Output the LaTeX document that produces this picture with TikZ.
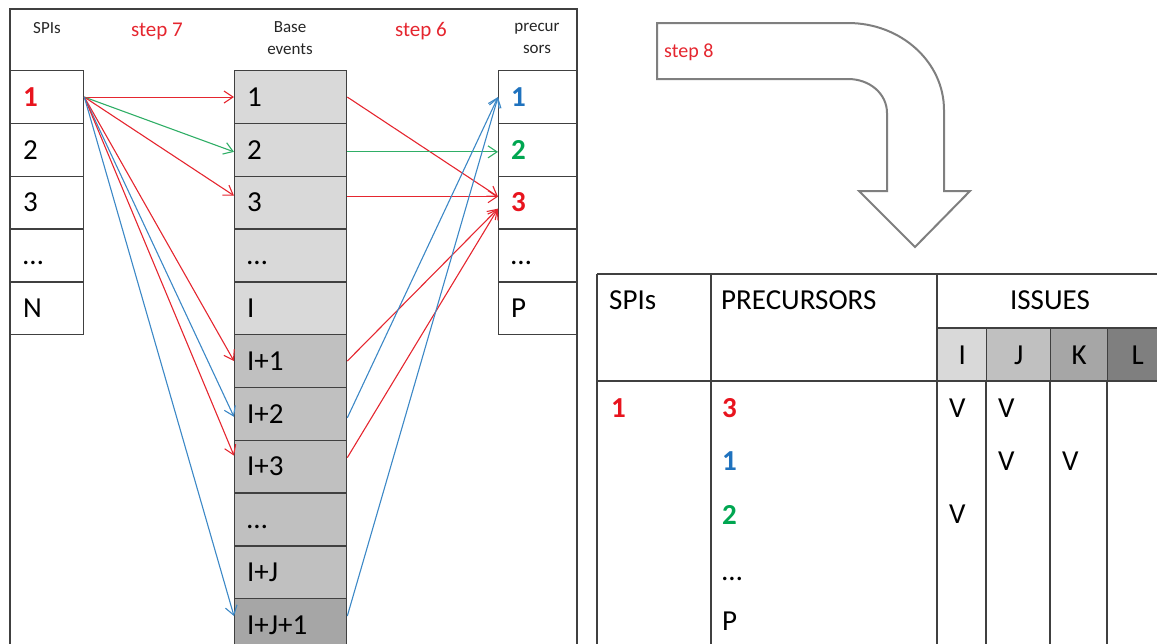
\documentclass[tikz,border=0pt]{standalone}
\usepackage{fontspec}
\setmainfont{Carlito}
\usetikzlibrary{arrows.meta}

\definecolor{hred}{HTML}{E8141E}
\definecolor{hblue}{HTML}{1F72BE}
\definecolor{hgreen}{HTML}{00A651}
\definecolor{lred}{HTML}{E5262F}
\definecolor{lgreen}{HTML}{2FAE66}
\definecolor{lblue}{HTML}{3C88C6}
\definecolor{rule}{HTML}{404040}
\definecolor{shadeA}{HTML}{D9D9D9}
\definecolor{shadeB}{HTML}{C0C0C0}
\definecolor{shadeC}{HTML}{A6A6A6}
\definecolor{shadeD}{HTML}{7F7F7F}
\definecolor{bendgray}{HTML}{7F7F7F}

\newcommand{\red}[1]{\textcolor{hred}{\bfseries #1}}
\newcommand{\blu}[1]{\textcolor{hblue}{\bfseries #1}}
\newcommand{\grn}[1]{\textcolor{hgreen}{\bfseries #1}}

\begin{document}
\begin{tikzpicture}[x=1pt,y=-1pt,
  bigfont/.style={font=\fontsize{29}{30}\selectfont},
  cell/.style={bigfont, draw=rule, line width=1.3pt, minimum height=52.8pt,
    inner xsep=12.5pt, inner ysep=0pt, text height=18.5pt, text depth=0pt,
    align=left, anchor=north west},
  spicell/.style={cell, text width=48pt},
  evcell/.style={cell, text width=87pt},
  precell/.style={cell, text width=54pt},
  headtxt/.style={font=\fontsize{17}{22}\selectfont, align=center, text=black!85},
  steptxt/.style={font=\fontsize{21}{24}\selectfont, text=lred},
  link/.style={line width=1.1pt, -{Straight Barb[length=9pt,width=12pt]}},
  tline/.style={draw=rule, line width=1.3pt},
  ttxt/.style={bigfont, anchor=west, inner sep=0pt, text height=18.5pt, text depth=0pt},
  hcell/.style={bigfont, draw=rule, line width=1.3pt, minimum height=53pt,
    inner sep=0pt, text height=18.5pt, text depth=0pt, anchor=north west}
]
\useasboundingbox (0,0) rectangle (1157,643);
\clip (0,0) rectangle (1157,643);

% ---------- left panel: outer frame ----------
\draw[tline] (10,700) -- (10,9) -- (577,9) -- (577,700);

% headings
\node[headtxt] (hspi) at (47,28) {SPIs};
\node[headtxt] (hbase) at (290,38) {Base\\events};
\node[headtxt] (hprec) at (537,38) {precur\\sors};
\node[steptxt] (st7) at (157,31) {step 7};
\node[steptxt] (st6) at (421,31) {step 6};

% SPIs column
\node[spicell] (s1) at (10,70.0)  {\red{1}};
\node[spicell] (s2) at (10,122.8) {2};
\node[spicell] (s3) at (10,175.6) {3};
\node[spicell] (s4) at (10,228.4) {\dots};
\node[spicell] (s5) at (10,281.2) {N};

% base events column
\node[evcell, fill=shadeA] (b1)   at (234,70.0)  {1};
\node[evcell, fill=shadeA] (b2)   at (234,122.8) {2};
\node[evcell, fill=shadeA] (b3)   at (234,175.6) {3};
\node[evcell, fill=shadeA] (bd1)  at (234,228.4) {\dots};
\node[evcell, fill=shadeA] (bI)   at (234,281.2) {I};
\node[evcell, fill=shadeB] (bI1)  at (234,334.0) {I+1};
\node[evcell, fill=shadeB] (bI2)  at (234,386.8) {I+2};
\node[evcell, fill=shadeB] (bI3)  at (234,439.6) {I+3};
\node[evcell, fill=shadeB] (bd2)  at (234,492.4) {\dots};
\node[evcell, fill=shadeB] (bIJ)  at (234,545.2) {I+J};
\node[evcell, fill=shadeC] (bIJ1) at (234,598.0) {I+J+1};

% precursors column
\node[precell] (p1) at (498,70.0)  {\blu{1}};
\node[precell] (p2) at (498,122.8) {\grn{2}};
\node[precell] (p3) at (498,175.6) {\red{3}};
\node[precell] (p4) at (498,228.4) {\dots};
\node[precell] (p5) at (498,281.2) {P};

% step 7: SPI 1 to base events
\draw[link, lred]   (s1.east) -- (b1.west);
\draw[link, lgreen] (s1.east) -- ([yshift=-2pt]b2.west);
\draw[link, lred]   (s1.east) -- ([yshift=7pt]b3.west);
\draw[link, lred]   (s1.east) -- (bI1.west);
\draw[link, lblue]  (s1.east) -- ([yshift=-3pt]bI2.west);
\draw[link, lred]   (s1.east) -- ([yshift=11pt]bI3.west);
\draw[link, lblue]  (s1.east) -- ([yshift=9pt]bIJ1.west);

% step 6: base events to precursors
\draw[link, lred]   (b1.east) -- ([yshift=6pt]p3.west);
\draw[link, lgreen] ([yshift=-2pt]b2.east) -- ([yshift=-2pt]p2.west);
\draw[link, lred]   ([yshift=6pt]b3.east) -- ([yshift=6pt]p3.west);
\draw[link, lred]   (bI1.east) -- ([yshift=-6pt]p3.west);
\draw[link, lblue]  ([yshift=-4pt]bI2.east) -- (p1.west);
\draw[link, lred]   ([yshift=9pt]bI3.east) -- ([yshift=-6pt]p3.west);
\draw[link, lblue]  ([yshift=9pt]bIJ1.east) -- (p1.west);

% ---------- step 8 bent arrow ----------
\draw[draw=bendgray, line width=2pt, fill=white, line join=miter]
  (657,23) -- (848,23)
  .. controls (901,23) and (944,62) .. (944,110)
  -- (944,191) -- (970,191) -- (915,247) -- (859,191) -- (887,191)
  -- (887,113)
  .. controls (887,94) and (870,79) .. (848,79)
  -- (657,79) -- cycle;
\node[font=\fontsize{20}{24}\selectfont, text=lred, anchor=west, inner sep=0pt] (st8) at (664,52) {step 8};

% ---------- summary table ----------
\node[hcell, fill=shadeA, minimum width=49pt] (ci) at (937,328)  {I};
\node[hcell, fill=shadeB, minimum width=64pt] (cj) at (986,328)  {J};
\node[hcell, fill=shadeC, minimum width=57pt] (ck) at (1050,328) {K};
\node[hcell, fill=shadeD, minimum width=60pt, text width=52pt, align=center] (cl) at (1107,328) {L};

\draw[tline] (597,274) -- (1170,274);
\draw[tline] (597,381) -- (1170,381);
\draw[tline] (937,328) -- (1170,328);
\draw[tline] (597,274) -- (597,700);
\draw[tline] (711,274) -- (711,700);
\draw[tline] (937,274) -- (937,700);
\draw[tline] (986,381) -- (986,700);
\draw[tline] (1050,381) -- (1050,700);
\draw[tline] (1107,381) -- (1107,700);

\node[ttxt] (tspi)  at (609,300) {SPIs};
\node[ttxt] (tprec) at (721,300) {PRECURSORS};
\node[ttxt, anchor=center] (tiss) at (1050,300) {ISSUES};

\node[ttxt] (r1s) at (611,408) {\red{1}};
\node[ttxt] (r1p) at (722,408) {\red{3}};
\node[ttxt] (r2p) at (722,461) {\blu{1}};
\node[ttxt] (r3p) at (722,515) {\grn{2}};
\node[ttxt] (r4p) at (722,571) {\dots};
\node[ttxt] (r5p) at (722,621) {P};

\node[ttxt] (v11) at (949,408)  {V};
\node[ttxt] (v12) at (998,408)  {V};
\node[ttxt] (v22) at (998,461)  {V};
\node[ttxt] (v23) at (1062,461) {V};
\node[ttxt] (v31) at (949,514)  {V};
\end{tikzpicture}
\end{document}
